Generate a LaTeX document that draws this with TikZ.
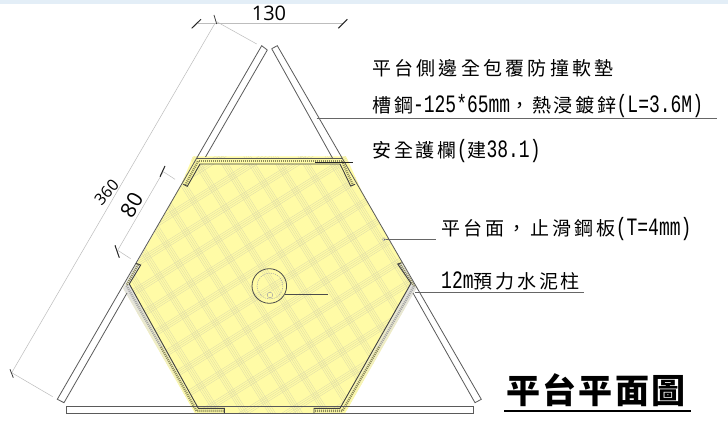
\documentclass[tikz,border=0pt]{standalone}
\usepackage{fontspec}
\setmainfont{Liberation Serif}
\newfontfamily\numfont{Open Sans}
\newfontfamily\cjk[LetterSpace=15]{Noto Sans CJK TC}
\newfontfamily\cjkt[LetterSpace=7]{Noto Sans CJK TC}
\newfontfamily\latm[FakeStretch=0.72]{Liberation Mono}
\newcommand{\cj}[1]{{\fontsize{19}{22}\cjk #1}}
\newcommand{\la}[1]{{\fontsize{25}{25}\latm #1}}
\definecolor{topband}{HTML}{E3EEF7}
\definecolor{deck}{HTML}{FFFBA6}
\definecolor{hatch}{HTML}{DEDCA8}
\definecolor{railc}{HTML}{5A5A5A}
\definecolor{dimc}{HTML}{BDBDBD}
\tikzset{
  rail/.style={draw=railc,line width=0.8pt},
  inner edge/.style={draw=black!75,line width=0.9pt,line join=miter},
  dimline/.style={draw=dimc,line width=0.5pt},
  dimtick/.style={draw=black!85,line width=1pt},
  leader/.style={draw=black!60,line width=0.7pt},
  speck/.style={draw=black!45!deck,line width=2.4pt,dash pattern=on 1pt off 1pt},
  callout/.style={anchor=base west,inner sep=0pt,text=black},
  num/.style={inner sep=0pt,text=black,font=\numfont}
}
\begin{document}
\begin{tikzpicture}[x=1pt,y=-1pt]
\useasboundingbox (0,0) rectangle (728,422);
\fill[white] (0,0) rectangle (728,422);
\fill[topband] (0,0) rectangle (728,4);
% deck
\path[fill=deck] (193,156.5) -- (346,156.5) -- (363.5,195) -- (416.5,287.5) -- (345,413) -- (195,413) -- (123,288) -- (181,185) -- cycle;
\begin{scope}
\clip (193,156.5) -- (346,156.5) -- (363.5,195) -- (416.5,287.5) -- (345,413) -- (195,413) -- (123,288) -- (181,185) -- cycle;
\begin{scope}[shift={(270,285)},rotate=32]
\foreach \k in {-14,...,14}{
  \foreach \o in {0,1.9,3.8,5.7}{
    \draw[hatch,line width=0.35pt] ({\k*23+\o},-300) -- ({\k*23+\o},300);
    \draw[hatch,line width=0.35pt] (-300,{\k*23+\o}) -- (300,{\k*23+\o});
  }
}
\end{scope}
\end{scope}
% guards
\path[top color=black!12,bottom color=deck] (123,288) -- (129.3,284) -- (198.3,408.3) -- (224.3,408.3) -- (224.3,413) -- (195,413) -- cycle;
\path[top color=black!12,bottom color=deck] (416.5,288) -- (411,283.3) -- (340,408.3) -- (314,408.3) -- (314,413) -- (345,413) -- cycle;
\fill[deck!50!black!15] (136,263.3) -- (140.7,265) -- (129.3,284) -- (123,288) -- cycle;
\fill[deck!50!black!15] (397.7,264) -- (401.7,262.7) -- (416.5,287.5) -- (411,283.3) -- cycle;
\fill[deck] (196.7,158.5) -- (343.3,158.5) -- (355,184.3) -- (350.7,186) -- (340,164) -- (200,164) -- (187.3,186.3) -- (183.3,184.3) -- cycle;
\draw[speck] (198.5,161.2) -- (341.5,161.2);
\draw[speck] (198,161.2) -- (185.3,185);
\draw[speck] (342,161.2) -- (353,185);
\draw[speck] (138,264.5) -- (126.5,285.5);
\draw[speck,draw=black!35] (126.5,285.5) -- (161,347);
\draw[speck] (161,347) -- (196.5,410.8) -- (224,410.8);
\draw[speck] (399.7,263.5) -- (414,286);
\draw[speck,draw=black!35] (414,286) -- (379,347);
\draw[speck] (379,347) -- (342.5,410.8) -- (314.5,410.8);
% rails
\draw[rail] (267.3,50) -- (261.7,45.7) -- (57.3,399.3) -- (64,402.7) -- (127,293);
\draw[rail] (267.3,50) -- (205.5,157);
\draw[rail] (271.7,48.7) -- (277.3,45.7) -- (481.3,399.3) -- (475,402.7) -- (413,293);
\draw[rail] (271.7,48.7) -- (333,159);
\draw[rail] (66,406.7) rectangle (473,413.5);
\draw[railc,line width=1.2pt] (141,413.3) -- (400,413.3);
\draw[rail] (196.7,158.3) -- (343.3,158.3);
% inner edges
\draw[inner edge] (183.3,184.3) -- (187.3,186.3) -- (200,164) -- (340,164) -- (350.7,186) -- (355,184.3);
\draw[inner edge] (401.7,262.7) -- (397.7,264) -- (411,283.3) -- (340,408.3) -- (314,408.3) -- (314,413);
\draw[inner edge] (136,263.3) -- (140.7,265) -- (129.3,284) -- (198.3,408.3) -- (224.3,408.3) -- (224.3,413);
% column
\draw[black!70,line width=0.8pt] (269.3,286) circle[radius=17.3];
\draw[black!35,line width=0.5pt,dash pattern=on 1.2pt off 1pt] (270,286) circle[radius=13];
\draw[black!35,line width=0.5pt] (270,295) circle[radius=2.8];
% leaders
\coordinate (railpt) at (316.7,118);
\coordinate (guardpt) at (315,162.3);
\coordinate (guardend) at (353,162.3);
\coordinate (deckpt) at (384,239.3);
\coordinate (postpt) at (415,292.7);
\coordinate (colpt) at (285.3,294);
\draw[leader] (railpt) -- (717,118);
\draw[black!85,line width=0.7pt] (guardpt) -- (guardend);
\draw[leader] (deckpt) -- (435.7,239.3);
\draw[black!35,line width=0.4pt] (deckpt) circle[radius=1.6];
\draw[leader] (postpt) -- (584,292.7);
\draw[black!70,line width=0.8pt] (colpt) -- (328,294);
% dimensions
\draw[dimline] (198,23.7) -- (343,23.7);
\draw[dimtick] (191.7,28.3) -- (201,19.3);
\draw[dimtick] (338.3,28.3) -- (347.3,19.3);
\draw[dimline] (215,23.3) -- (11.7,372.7);
\draw[dimline] (216.7,21.7) -- (256.7,44);
\draw[dimline] (11.7,372.7) -- (52.7,396.7);
\draw[black!75,line width=0.8pt] (214,15) -- (216.7,24);
\draw[black!75,line width=0.8pt] (10,369.3) -- (13.3,377.7);
\draw[dimline] (163.3,171.7) -- (117.7,250.3);
\draw[dimline] (163.3,171.7) -- (175,179.3);
\draw[dimline] (117.7,250.3) -- (130.7,258.7);
\draw[dimtick] (160,176.7) -- (165,166);
\draw[dimtick] (115,245.3) -- (119.3,257.7);
\node[num,font=\numfont\fontsize{20}{20}\selectfont] (d130) at (269,13.5) {130};
\node[num,font=\numfont\fontsize{16}{16}\selectfont,rotate=48] (d360) at (106.5,192) {360};
\node[num,font=\numfont\fontsize{21}{21}\selectfont,rotate=60] (d80) at (131.5,205) {80};
% callouts
\node[callout] (t1) at (372,75.5) {\fontsize{19}{22}\cjk\addfontfeature{LetterSpace=17}平台側邊全包覆防撞軟墊};
\node[callout] (t2) at (372,113) {\cj{槽鋼}\la{-125*65mm}\cj{，熱浸鍍鋅}\la{(L=3.6M)}};
\node[callout] (t3) at (372,158) {\cj{安全護欄}\la{(}\cj{建}\la{38.1)}};
\node[callout] (t4) at (441,235) {\fontsize{19}{22}\cjk\addfontfeature{LetterSpace=17}平台面，止滑鋼板\la{(T=4mm)}};
\node[callout] (t5) at (441,288) {\la{12m}\cj{預力水泥柱}};
\node[callout] (title) at (506,403) {\fontsize{34}{36}\cjkt\bfseries 平台平面圖};
\draw[black,line width=1.6pt] (504,411) -- (691,411);
\end{tikzpicture}
\end{document}
